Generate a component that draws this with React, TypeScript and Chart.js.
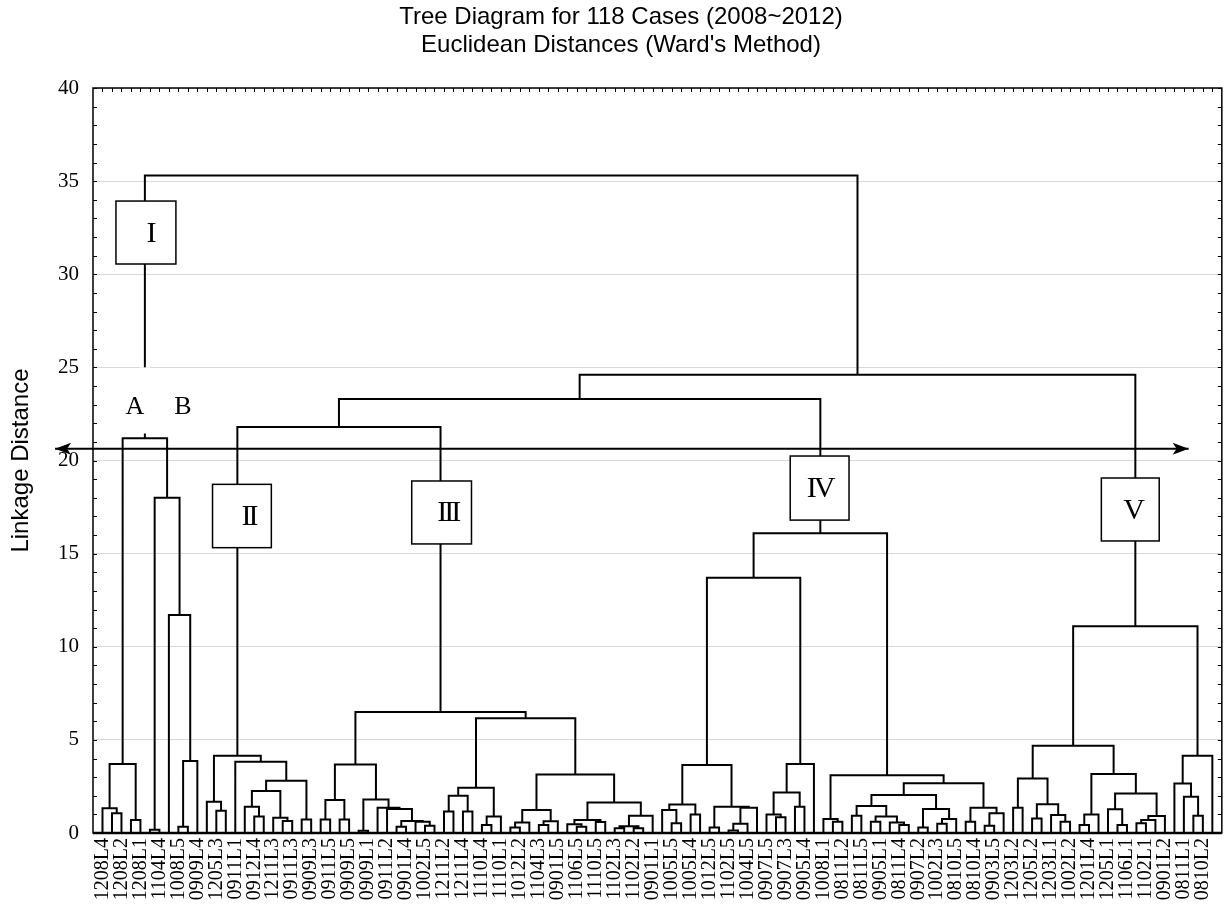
import React, { useEffect, useRef } from "react";
import { Chart, registerables } from "chart.js";
Chart.register(...registerables);

type Node = number | [Node, Node, number];

const titleLines = ["Tree Diagram for 118 Cases (2008~2012)", "Euclidean Distances (Ward's Method)"];
const yAxisTitle = "Linkage Distance";
const yTickValues = [0, 5, 10, 15, 20, 25, 30, 35, 40];
const leafCount = 118;
const leafLabels = [
  "1208L4", "1208L2", "1208L1", "1104L4", "1008L5", "0909L4", "1205L3", "0911L1", "0912L4", "1211L3",
  "0911L3", "0909L3", "0911L5", "0909L5", "0909L1", "0911L2", "0901L4", "1002L5", "1211L2", "1211L4",
  "1110L4", "1110L1", "1012L2", "1104L3", "0901L5", "1106L5", "1110L5", "1102L3", "1102L2", "0901L1",
  "1005L5", "1005L4", "1012L5", "1102L5", "1004L5", "0907L5", "0907L3", "0905L4", "1008L1", "0811L2",
  "0811L5", "0905L1", "0811L4", "0907L2", "1002L3", "0810L5", "0810L4", "0903L5", "1203L2", "1205L2",
  "1203L1", "1002L2", "1201L4", "1205L1", "1106L1", "1102L1", "0901L2", "0811L1", "0810L2",
];

// clusters: [left, right, linkage distance]; numbers are leaf positions
const clusterA: Node = [[0, [1, 2, 1.06], 1.33], [3, 4, 0.7], 3.7];
const clusterB: Node = [[5, 6, 0.18], [7, [[8, 9, 0.34], 10, 3.87], 11.7], 18.0];
const clusterII: Node = [
  [11, [12, 13, 1.2], 1.68],
  [14, [[[15, [16, 17, 0.88], 1.41], [18, [19, 20, 0.64], 0.82], 2.25], [21, 22, 0.73], 2.8], 3.83],
  4.15,
];
const c23_26: Node = [[23, 24, 0.73], [25, 26, 0.73], 1.77];
const c27_35: Node = [[27, 28, 0.12], [29, [30, [[31, 32, 0.34], [33, [34, 35, 0.39], 0.6], 0.64], 1.29], 1.36], 1.8];
const c36_42: Node = [[[36, 37, 1.15], [38, 39, 1.15], 2.0], [[40, 41, 0.43], 42, 0.88], 2.43];
const c43_48: Node = [[[43, 44, 0.29], 45, 0.57], [[46, 47, 0.43], 48, 0.63], 1.23];
const c49_58: Node = [
  [[49, [50, 51, 0.34], 0.47], [52, 53, 0.59], 0.7],
  [[[54, 55, 0.25], [56, 57, 0.25], 0.36], 58, 0.93],
  1.64,
];
const clusterIII: Node = [[c23_26, c27_35, 3.68], [c36_42, [c43_48, c49_58, 3.14], 6.16], 6.5];
const c59_69: Node = [
  [[59, [60, 61, 0.52], 1.23], [62, 63, 1.0], 1.53],
  [[64, 65, 0.29], [[[66, 67, 0.14], 68, 0.5], 69, 1.36], 1.41],
  3.65,
];
const c70_75: Node = [[[70, [71, 72, 0.84], 1.0], [73, 74, 1.41], 2.18], 75, 3.7];
const c76_95: Node = [
  [76, [77, 78, 0.6], 0.75],
  [
    [
      [[79, 80, 0.93], [[81, 82, 0.6], [83, [84, 85, 0.43], 0.57], 0.88], 1.45],
      [[86, 87, 0.29], [[88, 89, 0.5], 90, 0.75], 1.29],
      2.04,
    ],
    [[91, 92, 0.6], [[93, 94, 0.39], 95, 1.06], 1.36],
    2.67,
  ],
  3.1,
];
const clusterIV: Node = [[c59_69, c70_75, 13.7], c76_95, 16.1];
const c96_112: Node = [
  [[96, 97, 1.36], [[98, 99, 0.78], [100, [101, 102, 0.6], 0.97], 1.54], 2.92],
  [[[103, 104, 0.43], 105, 1.0], [[106, [107, 108, 0.43], 1.27], [[[109, 110, 0.52], 111, 0.7], 112, 0.91], 2.12], 3.17],
  4.69,
];
const c113_117: Node = [[113, [114, [115, 116, 0.93], 1.95], 2.66], 117, 4.15];
const clusterV: Node = [c96_112, c113_117, 11.1];
const rootTree: Node = [
  [clusterA, clusterB, 21.2],
  [[[clusterII, clusterIII, 21.8], clusterIV, 23.3], clusterV, 24.6],
  35.3,
];

// annotations (data units: x = leaf position, y = linkage distance)
const groupBoxes = [
  { label: "I", x0: 1.42, x1: 7.74, y0: 30.55, y1: 33.93, tx: 5.0, ty: 32.15 },
  { label: "II", x0: 11.6, x1: 17.8, y0: 15.32, y1: 18.72, tx: 15.4, ty: 16.95 },
  { label: "III", x0: 32.6, x1: 38.9, y0: 15.52, y1: 18.9, tx: 36.4, ty: 17.15 },
  { label: "IV", x0: 72.5, x1: 78.7, y0: 16.8, y1: 20.24, tx: 75.6, ty: 18.45 },
  { label: "V", x0: 105.3, x1: 111.4, y0: 15.68, y1: 19.06, tx: 108.6, ty: 17.3 },
];
const letterLabels = [
  { label: "A", x: 3.42, y: 22.87 },
  { label: "B", x: 8.47, y: 22.87 },
];
const stemGap = { x0: 3.9, x1: 5.0, y0: 21.45, y1: 25.0 };
const cutArrow = { x0: -5.0, x1: 114.5, y: 20.63 };

function buildSegments(node: Node, out: { x: number; y: number | null }[]): { x: number; h: number } {
  if (typeof node === "number") return { x: node, h: 0 };
  const [l, r, h] = node;
  const a = buildSegments(l, out);
  const b = buildSegments(r, out);
  out.push({ x: a.x, y: a.h }, { x: a.x, y: h }, { x: b.x, y: h }, { x: b.x, y: b.h }, { x: b.x, y: null });
  return { x: (a.x + b.x) / 2, h };
}

const extrasPlugin = {
  id: "extras",
  afterDatasetsDraw(chart: any) {
    const { ctx, scales } = chart;
    const xs = scales.x;
    const ys = scales.y;
    const px = (v: number) => xs.getPixelForValue(v);
    const py = (v: number) => ys.getPixelForValue(v);
    ctx.save();
    ctx.fillStyle = "#fff";
    ctx.fillRect(px(stemGap.x0), py(stemGap.y1), px(stemGap.x1) - px(stemGap.x0), py(stemGap.y0) - py(stemGap.y1));
    // cut arrow
    ctx.strokeStyle = "#000";
    ctx.fillStyle = "#000";
    ctx.lineWidth = 2;
    const ay = py(cutArrow.y);
    const ax0 = px(cutArrow.x0);
    const ax1 = px(cutArrow.x1);
    ctx.beginPath();
    ctx.moveTo(ax0, ay);
    ctx.lineTo(ax1, ay);
    ctx.stroke();
    ctx.beginPath();
    ctx.moveTo(ax0, ay);
    ctx.lineTo(ax0 + 16, ay - 6);
    ctx.lineTo(ax0 + 12, ay);
    ctx.lineTo(ax0 + 16, ay + 6);
    ctx.closePath();
    ctx.fill();
    ctx.beginPath();
    ctx.moveTo(ax1, ay);
    ctx.lineTo(ax1 - 16, ay - 6);
    ctx.lineTo(ax1 - 12, ay);
    ctx.lineTo(ax1 - 16, ay + 6);
    ctx.closePath();
    ctx.fill();
    // group boxes
    for (const b of groupBoxes) {
      const x0 = px(b.x0), x1 = px(b.x1), y0 = py(b.y1), y1 = py(b.y0);
      ctx.fillStyle = "#fff";
      ctx.fillRect(x0, y0, x1 - x0, y1 - y0);
      ctx.lineWidth = 1.5;
      ctx.strokeStyle = "#000";
      ctx.strokeRect(x0, y0, x1 - x0, y1 - y0);
      ctx.fillStyle = "#000";
      ctx.font = '30px "Liberation Serif"';
      (ctx as any).letterSpacing = "-3px";
      ctx.textAlign = "center";
      ctx.textBaseline = "middle";
      ctx.fillText(b.label, px(b.tx), py(b.ty));
      (ctx as any).letterSpacing = "0px";
    }
    ctx.font = '26px "Liberation Serif"';
    ctx.textAlign = "center";
    ctx.textBaseline = "middle";
    for (const l of letterLabels) ctx.fillText(l.label, px(l.x), py(l.y));
    ctx.restore();
  },
  afterDraw(chart: any) {
    const { ctx, scales, chartArea } = chart;
    const ys = scales.y;
    const xs = scales.x;
    const { left, right, top, bottom } = chartArea;
    ctx.save();
    ctx.strokeStyle = "#000";
    ctx.lineWidth = 1.5;
    ctx.strokeRect(left, top, right - left, bottom - top);
    ctx.lineWidth = 2.5;
    ctx.beginPath();
    ctx.moveTo(left, bottom);
    ctx.lineTo(right, bottom);
    ctx.stroke();
    ctx.lineWidth = 1;
    ctx.beginPath();
    for (let v = 0; v <= 40; v += 1) {
      const y = Math.round(ys.getPixelForValue(v)) + 0.5;
      ctx.moveTo(left, y);
      ctx.lineTo(left + 4, y);
      ctx.moveTo(right, y);
      ctx.lineTo(right - 4, y);
    }
    for (let i = 0; i < leafCount; i += 1) {
      const x = Math.round(xs.getPixelForValue(i)) + 0.5;
      ctx.moveTo(x, top);
      ctx.lineTo(x, top + 4);
    }
    ctx.stroke();
    ctx.fillStyle = "#000";
    ctx.textAlign = "center";
    ctx.textBaseline = "middle";
    ctx.font = '24px "Liberation Sans"';
    ctx.fillText(titleLines[0], 621, 17);
    ctx.fillText(titleLines[1], 621, 45);
    ctx.translate(21, (top + bottom) / 2);
    ctx.rotate(-Math.PI / 2);
    ctx.fillText(yAxisTitle, 0, 0);
    ctx.restore();
  },
};

export default function App() {
  const ref = useRef<HTMLCanvasElement | null>(null);
  useEffect(() => {
    document.body.style.margin = "0";
    const segs: { x: number; y: number | null }[] = [];
    buildSegments(rootTree, segs);
    const chart = new Chart(ref.current as HTMLCanvasElement, {
      type: "line",
      data: {
        datasets: [
          {
            data: segs as any,
            borderColor: "#000",
            borderWidth: 2,
            pointRadius: 0,
            tension: 0,
            spanGaps: false,
            fill: false,
          },
        ],
      },
      options: {
        responsive: false,
        animation: false,
        devicePixelRatio: 1,
        parsing: false as any,
        layout: { padding: { left: 0, top: 88, right: 9, bottom: 0 } },
        plugins: { legend: { display: false }, tooltip: { enabled: false }, title: { display: false } },
        scales: {
          x: {
            type: "linear",
            min: -1,
            max: leafCount,
            afterFit: (s: any) => {
              s.height = 80;
            },
            afterBuildTicks: (s: any) => {
              s.ticks = leafLabels.map((_, k) => ({ value: 2 * k }));
            },
            grid: { display: false, drawTicks: false },
            border: { display: false },
            ticks: {
              autoSkip: false,
              maxRotation: 90,
              minRotation: 90,
              padding: 5,
              color: "#000",
              font: { family: "Liberation Serif", size: 20 },
              callback: (v: any) => leafLabels[Math.round(Number(v) / 2)] ?? "",
            },
          },
          y: {
            min: 0,
            max: 40,
            afterFit: (s: any) => {
              s.width = 93;
            },
            afterBuildTicks: (s: any) => {
              s.ticks = yTickValues.map((v) => ({ value: v }));
            },
            grid: { color: "#d9d9d9", lineWidth: 1, drawTicks: false },
            border: { display: false },
            ticks: {
              padding: 14,
              color: "#000",
              font: { family: "Liberation Serif", size: 21 },
            },
          },
        },
      },
      plugins: [extrasPlugin],
    });
    return () => chart.destroy();
  }, []);
  return <canvas ref={ref} width={1232} height={913} style={{ display: "block", width: 1232, height: 913 }} />;
}
